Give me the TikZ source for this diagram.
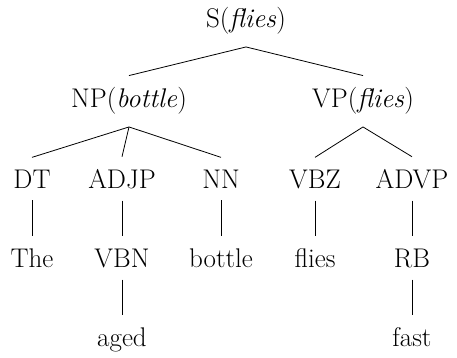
\documentclass[tikz,border=0pt]{standalone}
\usepackage{fontspec}
\setmainfont{Latin Modern Roman}
\begin{document}
\begin{tikzpicture}[x=1pt,y=-1pt,
  tn/.style={anchor=base, inner sep=12pt, font=\fontsize{27}{32}\selectfont},
  edge/.style={line width=0.8pt}]
\useasboundingbox (0,0) rectangle (457,358);
% level 0
\node[tn] (S) at (246,28) {S(\textit{flies})};
% level 1
\node[tn] (NP) at (129,108) {NP(\textit{bottle})};
\node[tn] (VP) at (363,108) {VP(\textit{flies})};
% level 2
\node[tn] (DT) at (32,188) {DT};
\node[tn] (ADJP) at (122,188) {ADJP};
\node[tn] (NN) at (221,188) {NN};
\node[tn] (VBZ) at (315,188) {VBZ};
\node[tn] (ADVP) at (412,188) {ADVP};
% level 3
\node[tn] (The) at (32,267) {The};
\node[tn] (VBN) at (122,267) {VBN};
\node[tn] (bottle) at (221,267) {bottle};
\node[tn] (flies) at (315,267) {flies};
\node[tn] (RB) at (412,267) {RB};
% level 4
\node[tn] (aged) at (122,346) {aged};
\node[tn] (fast) at (412,346) {fast};
% edges
\draw[edge] (S.south) -- (NP.north);
\draw[edge] (S.south) -- (VP.north);
\draw[edge] (NP.south) -- (DT.north);
\draw[edge] (NP.south) -- (ADJP.north);
\draw[edge] (NP.south) -- (NN.north);
\draw[edge] (VP.south) -- (VBZ.north);
\draw[edge] (VP.south) -- (ADVP.north);
\draw[edge] (DT.south) -- (The.north);
\draw[edge] (ADJP.south) -- (VBN.north);
\draw[edge] (NN.south) -- (bottle.north);
\draw[edge] (VBZ.south) -- (flies.north);
\draw[edge] (ADVP.south) -- (RB.north);
\draw[edge] (VBN.south) -- (aged.north);
\draw[edge] (RB.south) -- (fast.north);
\end{tikzpicture}
\end{document}
